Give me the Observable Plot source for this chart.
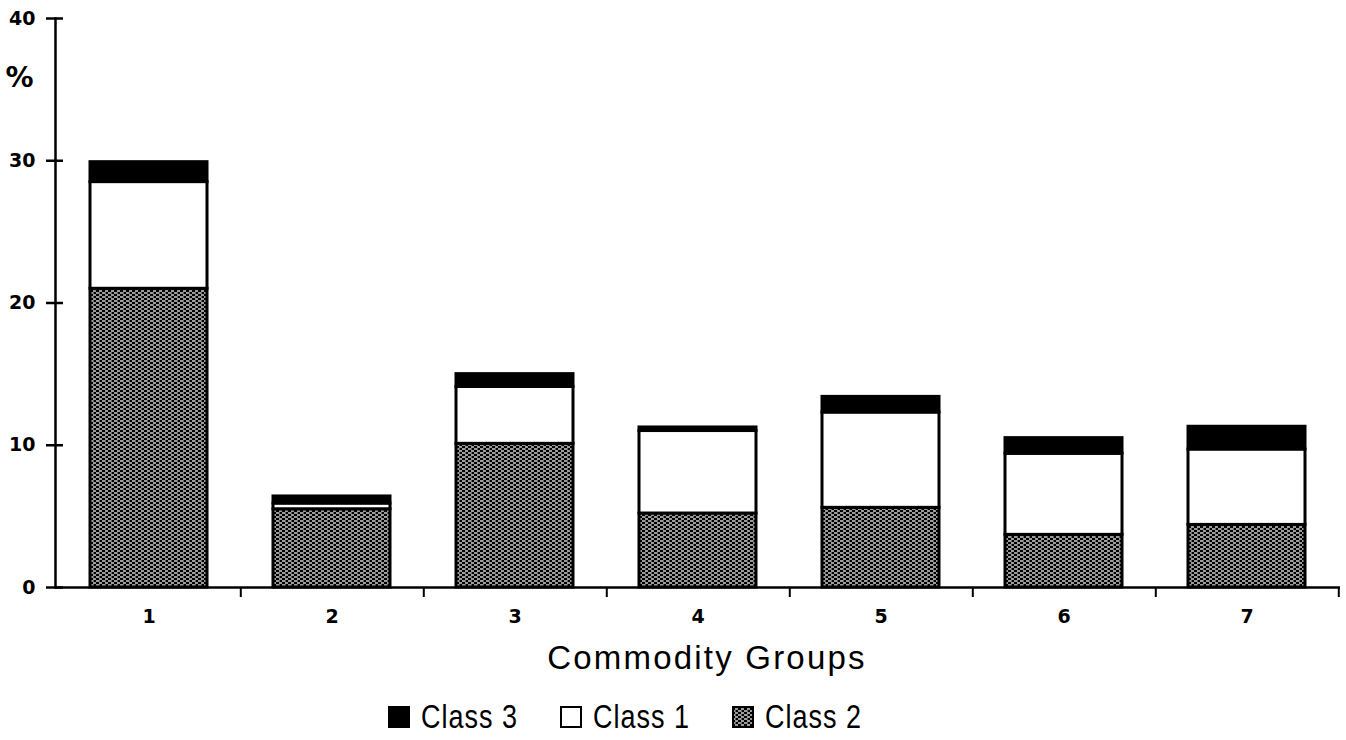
<!DOCTYPE html>
<html>
<head>
<meta charset="utf-8">
<script src="https://cdn.jsdelivr.net/npm/d3@7"></script>
<script src="https://cdn.jsdelivr.net/npm/@observablehq/plot@0.6"></script>
<style>
  html, body { margin: 0; padding: 0; background: #fff; }
  #wrap { position: relative; width: 1346px; height: 740px; }
  #legend { position: absolute; left: 388px; top: 702px; display: flex; align-items: center; font-family: "Liberation Sans", Arimo, sans-serif; font-size: 27px; letter-spacing: 1px; color: #000; line-height: 30px; }
  .item { display: flex; align-items: center; margin-right: 42px; }
  .item svg { margin-right: 11px; }
  .item span { display: inline-block; transform: scaleY(1.2); }
  g[aria-label="y-axis tick label"] text { font-size: 19px !important; font-weight: bold; font-family: "DejaVu Sans"; }
  g[aria-label="x-axis tick label"] text { font-size: 19px !important; font-weight: bold; font-family: "DejaVu Sans"; }
</style>
</head>
<body>
<div id="wrap">
  <div id="chart"></div>
  <div id="legend"></div>
</div>
<script>
// ---- data ----
const groups = ["1", "2", "3", "4", "5", "6", "7"];
const classNames = ["Class 2", "Class 1", "Class 3"];        // stacking order bottom -> top
const class2 = [21.0, 5.5, 10.1, 5.2, 5.6, 3.7, 4.4];
const class1 = [7.5, 0.4, 4.0, 5.8, 6.7, 5.7, 5.3];
const class3 = [1.4, 0.5, 0.9, 0.25, 1.1, 1.1, 1.6];
const yTicks = [0, 10, 20, 30, 40];
const legendOrder = ["Class 3", "Class 1", "Class 2"];
const xTitle = "Commodity Groups";
const yTitle = "%";

const series = {"Class 2": class2, "Class 1": class1, "Class 3": class3};
const rows = [];
groups.forEach((g, i) => {
  classNames.forEach(c => rows.push({group: g, cls: c, value: series[c][i]}));
});

const W = 1346, H = 680, mL = 55, mR = 6, mT = 18, mB = 93;
const step = (W - mL - mR) / groups.length;

const fills = {"Class 2": "url(#hatch)", "Class 1": "white", "Class 3": "black"};

const chart = Plot.plot({
  width: W, height: H,
  marginLeft: mL, marginRight: mR, marginTop: mT, marginBottom: mB,
  style: {fontFamily: "DejaVu Sans", fontWeight: "bold", color: "#000", background: "#fff"},
  x: {domain: groups, paddingInner: 0.36, paddingOuter: 0.18, label: null},
  y: {domain: [0, 40], ticks: yTicks, label: null},
  color: {domain: classNames, range: classNames.map(c => fills[c])},
  marks: [
    Plot.barY(rows, Plot.stackY({x: "group", y: "value", fill: "cls", order: classNames, stroke: "black", strokeWidth: 3})),
    Plot.frame({anchor: "left", stroke: "black", strokeWidth: 2.5}),
    Plot.ruleY([0], {stroke: "black", strokeWidth: 2.5}),
    Plot.axisY({ticks: yTicks, tickSize: 9, tickPadding: 11, strokeWidth: 2.5, fontSize: 19, label: null}),
    Plot.axisY({ticks: yTicks, tickSize: -8, text: null, strokeWidth: 2.5, label: null}),
    Plot.axisX({tickSize: 10, text: null, dx: step / 2, strokeWidth: 2, label: null}),
    Plot.axisX({tickSize: 0, tickPadding: 22, fontSize: 19, label: null}),
    Plot.text([yTitle], {frameAnchor: "top-left", dx: -50, dy: 49, fontSize: 28, fontWeight: "bold", fontFamily: "DejaVu Sans"}),
    Plot.text([xTitle], {frameAnchor: "bottom", dx: 9, dy: 81, fontSize: 33, fontWeight: "normal", fontFamily: "Liberation Sans"})
  ]
});

// letter spacing for the x title
chart.querySelectorAll("text").forEach(t => {
  if (t.textContent === xTitle) t.setAttribute("letter-spacing", "2.2");
});

// pattern definition for Class 2
const defs = document.createElementNS("http://www.w3.org/2000/svg", "defs");
defs.innerHTML = `
  <pattern id="hatch" patternUnits="userSpaceOnUse" width="6" height="4">
    <rect width="6" height="4" fill="black"/>
    <rect x="0" y="0.4" width="3.6" height="1.2" fill="white"/>
    <rect x="3" y="2.4" width="3.6" height="1.2" fill="white"/>
  </pattern>`;
chart.insertBefore(defs, chart.firstChild);
document.getElementById("chart").appendChild(chart);

// legend
const legend = document.getElementById("legend");
legendOrder.forEach(c => {
  const item = document.createElement("div");
  item.className = "item";
  item.innerHTML = `<svg width="22" height="22"><rect x="1" y="1" width="20" height="20" fill="${fills[c]}" stroke="black" stroke-width="2"/></svg><span>${c}</span>`;
  legend.appendChild(item);
});
</script>
</body>
</html>
